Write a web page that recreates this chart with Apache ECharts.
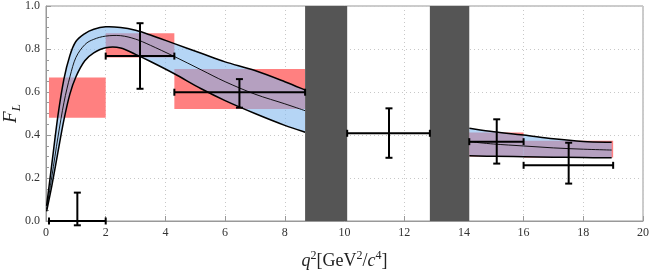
<!DOCTYPE html>
<html><head><meta charset="utf-8">
<script src="https://cdn.jsdelivr.net/npm/echarts@6/dist/echarts.min.js"></script>
<style>html,body{margin:0;padding:0;background:#fff}#c{width:649px;height:271px}</style>
</head><body><div id="c"></div>
<script>
// Theory band (left of the J/psi veto)
const bandLeftX      = [0.02, 0.2, 0.4, 0.6, 0.8, 1.0, 1.3, 1.6, 2.0, 2.5, 3.0, 3.5, 4.3, 5.2, 6.0, 7.0, 8.0, 8.68];
const bandLeftUpper  = [0.07, 0.27, 0.49, 0.66, 0.77, 0.835, 0.872, 0.892, 0.903, 0.900, 0.887, 0.865, 0.825, 0.780, 0.740, 0.700, 0.648, 0.609];
const bandLeftMiddle = [0.055, 0.21, 0.39, 0.55, 0.67, 0.76, 0.82, 0.845, 0.860, 0.862, 0.846, 0.817, 0.765, 0.703, 0.648, 0.590, 0.545, 0.513];
const bandLeftLower  = [0.045, 0.167, 0.32, 0.47, 0.59, 0.67, 0.745, 0.782, 0.806, 0.805, 0.775, 0.742, 0.685, 0.615, 0.560, 0.500, 0.445, 0.413];
// Theory band (right of the psi(2S) veto)
const bandRightX      = [14.18, 15, 16, 17, 18, 18.95];
const bandRightUpper  = [0.431, 0.415, 0.400, 0.382, 0.370, 0.366];
const bandRightMiddle = [0.369, 0.358, 0.349, 0.340, 0.334, 0.330];
const bandRightLower  = [0.304, 0.301, 0.299, 0.297, 0.295, 0.294];
// Binned SM predictions (red boxes)
const smBinLo = [0.1, 2, 4.3, 14.18, 16];
const smBinHi = [2, 4.3, 8.68, 16, 19];
const smMin   = [0.48, 0.761, 0.521, 0.30, 0.295];
const smMax   = [0.668, 0.873, 0.707, 0.412, 0.373];
// Measurements
const dataX   = [1.05, 3.15, 6.48, 11.49, 15.1, 17.51];
const dataXLo = [0.1, 2, 4.3, 10.09, 14.18, 16];
const dataXHi = [2, 4.3, 8.68, 12.86, 16, 19];
const dataY   = [0.00, 0.767, 0.599, 0.408, 0.369, 0.259];
const dataYLo = [-0.02, 0.615, 0.527, 0.294, 0.267, 0.174];
const dataYHi = [0.132, 0.92, 0.66, 0.524, 0.473, 0.364];
// Vetoed charmonium regions
const vetoLo = [8.68, 12.86];
const vetoHi = [10.09, 14.18];

const serif = 'Liberation Serif';
const bandColor = 'rgba(128,183,238,0.58)';

// cardinal-spline path through pixel points
function curvePath(pts, start) {
  const f = p => p[0].toFixed(2) + ' ' + p[1].toFixed(2);
  let d = (start ? 'M' : 'L') + f(pts[0]);
  for (let i = 0; i < pts.length - 1; i++) {
    const p0 = pts[i - 1] || pts[i], p1 = pts[i], p2 = pts[i + 1], p3 = pts[i + 2] || pts[i + 1];
    const c1 = [p1[0] + (p2[0] - p0[0]) / 6, p1[1] + (p2[1] - p0[1]) / 6];
    const c2 = [p2[0] - (p3[0] - p1[0]) / 6, p2[1] - (p3[1] - p1[1]) / 6];
    d += 'C' + f(c1) + ' ' + f(c2) + ' ' + f(p2);
  }
  return d;
}

function bandSeries(xs, up, mid, lo) {
  return {
    type: 'custom', z: 3, silent: true,
    data: xs.map((x, i) => [x, lo[i], up[i]]),
    encode: {x: 0, y: [1, 2]},
    renderItem: (params, api) => {
      if (params.dataIndex !== 0) return null;
      const P = ys => xs.map((x, i) => api.coord([x, ys[i]]));
      const pu = P(up), pm = P(mid), pl = P(lo);
      const fill = curvePath(pu, true) + curvePath(pl.slice().reverse(), false) + 'Z';
      const line = (pts, w) => ({type: 'path', shape: {pathData: curvePath(pts, true)},
                                 style: {fill: null, stroke: '#000', lineWidth: w}});
      return {type: 'group', children: [
        {type: 'path', shape: {pathData: fill}, style: {fill: bandColor}},
        line(pu, 1.5), line(pm, 0.9), line(pl, 1.5)
      ]};
    }
  };
}

const chart = echarts.init(document.getElementById('c'));
chart.setOption({
  animation: false,
  grid: {left: 46, right: 6, top: 6, bottom: 50, show: true, borderColor: '#999', borderWidth: 1,
         outerBoundsMode: 'none', containLabel: false},
  xAxis: {
    type: 'value', min: 0, max: 20, interval: 2,
    axisLine: {show: true, lineStyle: {color: '#999'}},
    axisTick: {inside: true, length: 5, lineStyle: {color: '#999'}},
    axisLabel: {fontFamily: serif, fontSize: 12, color: '#333', margin: 6},
    splitLine: {show: true, lineStyle: {color: '#c8c8c8', type: [1, 3]}},
    name: '{i|q}{s|2}{n|[GeV}{s|2}{n|/}{i|c}{s|4}{n|]}',
    nameLocation: 'middle', nameGap: 29, nameMoveOverlap: false,
    nameTextStyle: {
      rich: {
        i: {fontFamily: serif, fontStyle: 'italic', fontSize: 18, color: '#222', lineHeight: 20, verticalAlign: 'bottom'},
        n: {fontFamily: serif, fontSize: 18, color: '#222', lineHeight: 20, verticalAlign: 'bottom'},
        s: {fontFamily: serif, fontSize: 12, color: '#222', lineHeight: 20, verticalAlign: 'top'}
      }
    }
  },
  yAxis: {
    type: 'value', min: 0, max: 1, interval: 0.2,
    axisLine: {show: true, lineStyle: {color: '#999'}},
    axisTick: {inside: true, length: 5, lineStyle: {color: '#999'}},
    minorTick: {show: true, splitNumber: 4, length: 3, lineStyle: {color: '#999'}},
    axisLabel: {fontFamily: serif, fontSize: 12, color: '#333', margin: 6, formatter: v => v.toFixed(1)},
    splitLine: {show: true, lineStyle: {color: '#c8c8c8', type: [1, 3]}},
    name: '{i|F}{s|L}', nameLocation: 'middle', nameGap: 23, nameRotate: 90, nameMoveOverlap: false,
    nameTextStyle: {
      rich: {
        i: {fontFamily: serif, fontStyle: 'italic', fontSize: 19, color: '#222', lineHeight: 22, verticalAlign: 'top'},
        s: {fontFamily: serif, fontStyle: 'italic', fontSize: 13, color: '#222', lineHeight: 22, verticalAlign: 'bottom'}
      }
    }
  },
  series: [
    {
      type: 'custom', z: 1, silent: true,
      data: smBinLo.map((lo, i) => [lo, smBinHi[i], smMin[i], smMax[i]]),
      encode: {x: [0, 1], y: [2, 3]},
      renderItem: (params, api) => {
        const a = api.coord([api.value(0), api.value(3)]);
        const b = api.coord([api.value(1), api.value(2)]);
        return {type: 'rect', shape: {x: a[0], y: a[1], width: b[0] - a[0], height: b[1] - a[1]},
                style: {fill: '#ff8080'}};
      }
    },
    bandSeries(bandLeftX, bandLeftUpper, bandLeftMiddle, bandLeftLower),
    bandSeries(bandRightX, bandRightUpper, bandRightMiddle, bandRightLower),
    {
      type: 'custom', z: 7, silent: true, clip: false,
      data: vetoLo.map((lo, i) => [lo, vetoHi[i]]),
      encode: {x: [0, 1]},
      renderItem: (params, api) => {
        const a = api.coord([api.value(0), 1]);
        const b = api.coord([api.value(1), 0]);
        return {type: 'rect', shape: {x: a[0], y: a[1], width: b[0] - a[0], height: b[1] - a[1]},
                style: {fill: '#555555'}};
      }
    },
    {
      type: 'custom', z: 10, silent: true, clip: false,
      data: dataX.map((x, i) => [x, dataXLo[i], dataXHi[i], dataY[i], dataYLo[i], dataYHi[i]]),
      encode: {x: [0, 1, 2], y: [3, 4, 5]},
      renderItem: (params, api) => {
        const c = api.coord([api.value(0), api.value(3)]);
        const l = api.coord([api.value(1), api.value(3)]);
        const r = api.coord([api.value(2), api.value(3)]);
        const lo = api.coord([api.value(0), api.value(4)]);
        const hi = api.coord([api.value(0), api.value(5)]);
        const st = {stroke: '#000', lineWidth: 2};
        const cap = 3.5;
        const ln = (x1, y1, x2, y2) => ({type: 'line', shape: {x1, y1, x2, y2}, style: st});
        return {type: 'group', children: [
          ln(l[0], c[1], r[0], c[1]),
          ln(l[0], c[1] - cap, l[0], c[1] + cap),
          ln(r[0], c[1] - cap, r[0], c[1] + cap),
          ln(c[0], lo[1], c[0], hi[1]),
          ln(c[0] - cap, lo[1], c[0] + cap, lo[1]),
          ln(c[0] - cap, hi[1], c[0] + cap, hi[1])
        ]};
      }
    }
  ]
});
</script></body></html>
